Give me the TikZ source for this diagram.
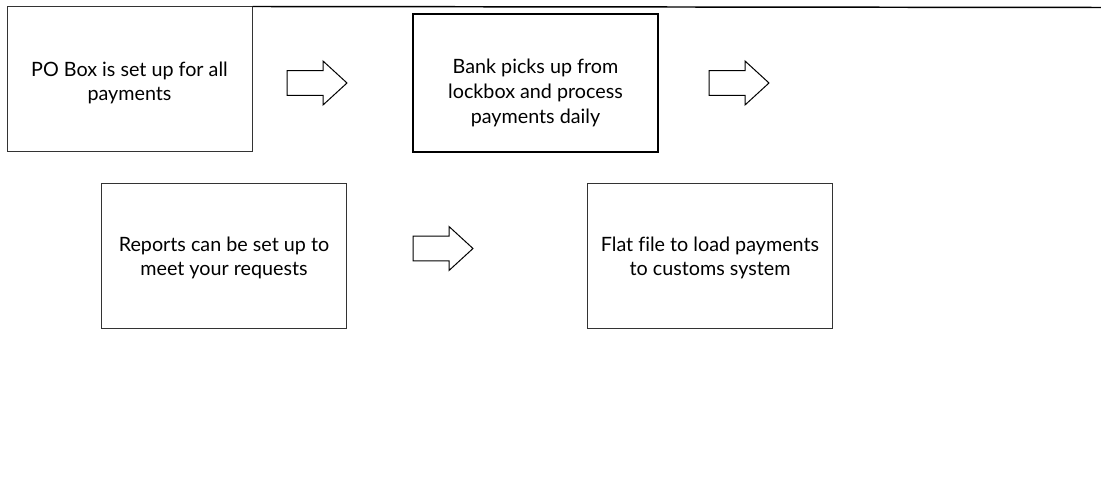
\documentclass[tikz,border=0pt]{standalone}
\usepackage{fontspec}
\setmainfont[Ligatures={NoCommon}]{Lato}
\begin{document}
\begin{tikzpicture}[x=0.75pt,y=-0.75pt,
  box/.style={draw=black!80, line width=0.75pt, minimum width=183.75pt, minimum height=108.75pt, inner sep=0pt},
  thickbox/.style={draw=black, line width=1.5pt, minimum width=183.75pt, minimum height=103.5pt, inner sep=0pt},
  txt/.style={align=center, font=\fontsize{14.8}{18.5}\selectfont, inner sep=0pt},
  blockarrow/.pic={\draw[line width=0.75pt, fill=white] (0,-12.3) -- (36,-12.3) -- (36,-22) -- (60,0) -- (36,22) -- (36,12.3) -- (0,12.3) -- cycle;}
]
\useasboundingbox (0,0) rectangle (1101,491);
\node[box] (b1) at (129.5,79.5) {};
\node[txt] (t1) at (129.5,83) {PO Box is set up for all\\payments};
\node[thickbox] (b2) at (535.5,83) {};
\node[txt] (t2) at (535.5,93) {Bank picks up from\\lockbox and process\\payments daily};
\node[box] (b3) at (224,256.5) {};
\node[txt] (t3) at (224,258) {Reports can be set up to\\meet your requests};
\node[box] (b4) at (710,256.5) {};
\node[txt] (t4) at (710,258) {Flat file to load payments\\to customs system};
\coordinate (lineend) at (1101,7.5);
\draw[line width=1.1pt] (b1.north east) -- (lineend);
\pic at (287,83) {blockarrow};
\pic at (709,83) {blockarrow};
\pic at (413,248.5) {blockarrow};
\end{tikzpicture}
\end{document}
